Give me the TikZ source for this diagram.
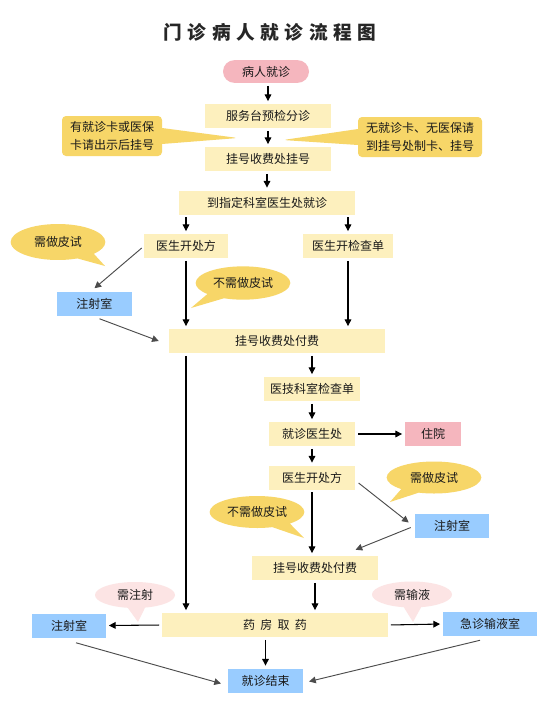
\documentclass[tikz,border=0pt]{standalone}
\usepackage{fontspec}
\usetikzlibrary{calc}
\usetikzlibrary{arrows.meta}
\usetikzlibrary{shapes.callouts}
\newfontfamily\cjk{Noto Sans CJK SC}
\newfontfamily\cjktitle[LetterSpace=30]{Noto Sans CJK SC}
\definecolor{boxyellow}{RGB}{253,240,190}
\definecolor{boxblue}{RGB}{153,204,255}
\definecolor{boxpink}{RGB}{245,182,190}
\definecolor{tipgold}{RGB}{247,214,104}
\definecolor{tippink}{RGB}{252,228,228}

\begin{document}
\begin{tikzpicture}[x=.75pt, y=-.75pt, >={Triangle[length=5pt,width=5pt]},
 every node/.style={font=\cjk\fontsize{9}{13}\selectfont, text=black!90, inner sep=0pt},
 ybox/.style={fill=boxyellow, minimum height=18pt},
 bluebox/.style={fill=boxblue, minimum height=18pt},
 pinkbox/.style={fill=boxpink, minimum height=18pt},
 tipbox/.style={rectangle callout, fill=tipgold, rounded corners=3pt, align=center, callout pointer width=12pt, minimum height=30pt},
 tipell/.style={ellipse callout, fill=tipgold, callout pointer arc=25, minimum width=71pt, minimum height=25pt},
 pinkell/.style={ellipse callout, fill=tippink, callout pointer arc=25, minimum width=60pt, minimum height=19.5pt},
 arr/.style={->, line width=.8pt, shorten <=2pt, shorten >=2pt},
 diag/.style={->, draw=black!70, line width=.7pt}]
\fill[white] (0,0) rectangle (542,701);
\useasboundingbox (0,0) rectangle (542,701);

\node[font=\cjktitle\fontsize{14}{16}\selectfont\bfseries, text=black!85] (title) at (270,32) {门诊病人就诊流程图};

\node[pinkbox, rounded corners=8.5pt, minimum width=64.5pt, minimum height=17pt] (brjz) at (266,71.5) {病人就诊};
\node[ybox, minimum width=95pt] (fwt) at (268,116) {服务台预检分诊};
\node[ybox, minimum width=95pt] (gh) at (268,159) {挂号收费处挂号};
\node[ybox, minimum width=132pt] (dzd) at (267,202.5) {到指定科室医生处就诊};
\node[ybox, minimum width=63pt] (kcf) at (186,246) {医生开处方};
\node[ybox, minimum width=67pt] (jcd) at (348,246) {医生开检查单};
\node[bluebox, minimum width=56pt] (zs1) at (94.5,303.5) {注射室};
\node[ybox, minimum width=162pt] (fy1) at (277,341) {挂号收费处付费};
\node[ybox, minimum width=72pt] (yj) at (312,389) {医技科室检查单};
\node[ybox, minimum width=65pt] (jzys) at (312,434) {就诊医生处};
\node[pinkbox, minimum width=42pt] (zy) at (433,434) {住院};
\node[ybox, minimum width=65pt] (kcf2) at (312,477.5) {医生开处方};
\node[bluebox, minimum width=55.5pt] (zs2) at (452,525.5) {注射室};
\node[ybox, minimum width=95pt] (fy2) at (315,568) {挂号收费处付费};
\node[ybox, minimum width=169.5pt] (yf) at (275,625) {药\hspace{4pt}房\hspace{4pt}取\hspace{4pt}药};
\node[bluebox, minimum width=55.5pt] (zs3) at (69,625.5) {注射室};
\node[bluebox, minimum width=70.5pt] (syy) at (490,624) {急诊输液室};
\node[bluebox, minimum width=56pt] (jsjs) at (265.5,680.5) {就诊结束};

\node[tipbox, minimum width=75pt, callout absolute pointer={(238,138)}] (tip1) at (112,136) {有就诊卡或医保\\卡请出示后挂号};
\node[tipbox, minimum width=93pt, callout absolute pointer={(283,140)}] (tip2) at (420,137) {无就诊卡、无医保请\\到挂号处制卡、挂号};
\node[tipell, minimum height=27pt, callout absolute pointer={(105,266)}] (ps1) at (58,242) {需做皮试};
\node[tipell, callout absolute pointer={(191,308)}] (nps1) at (243,283) {不需做皮试};
\node[tipell, minimum height=24pt, callout absolute pointer={(390,502)}] (ps2) at (434,477.5) {需做皮试};
\node[tipell, minimum height=24pt, callout absolute pointer={(304,538)}] (nps2) at (257,512) {不需做皮试};
\node[pinkell, callout absolute pointer={(138,622)}] (zsh) at (135,595) {需注射};
\node[pinkell, callout absolute pointer={(413,622)}] (syh) at (412,594.5) {需输液};

\foreach \a/\b in {brjz/fwt, fwt/gh, gh/dzd, dzd/kcf, dzd/jcd, fy1/yj, yj/jzys, jzys/kcf2, yf/jsjs}
 \draw[arr] (\b.north |- \a.south) -- (\b.north);
\foreach \a/\b in {kcf/fy1, jcd/fy1, kcf2/fy2, fy2/yf}
 \draw[arr] (\a.south) -- (\a.south |- \b.north);
\draw[arr] (kcf.south |- fy1.south) -- (kcf.south |- yf.north);
\draw[arr] (jzys.east) -- (zy.west);
\draw[arr] (yf.west) -- (zs3.east);
\draw[arr] (yf.east) -- (syy.west);

\draw[diag] ($(kcf.west)+(-2,2)$) -- ($(zs1.north)+(0,-3)$);
\draw[diag] ($(zs1.south)+(5,3)$) -- ($(fy1.west)+(-10,0)$);
\draw[diag] ($(kcf2.east)+(3,5.5)$) -- ($(zs2.west)+(-6,-3)$);
\draw[diag] ($(zs2.west)+(-4,2)$) -- ($(fy2.north east)+(-23,-6)$);
\draw[diag] ($(zs3.south)+(7,5)$) -- ($(jsjs.west)+(-7,3)$);
\draw[diag] ($(syy.south)+(-10,4)$) -- ($(jsjs.east)+(6,1)$);
\end{tikzpicture}
\end{document}
